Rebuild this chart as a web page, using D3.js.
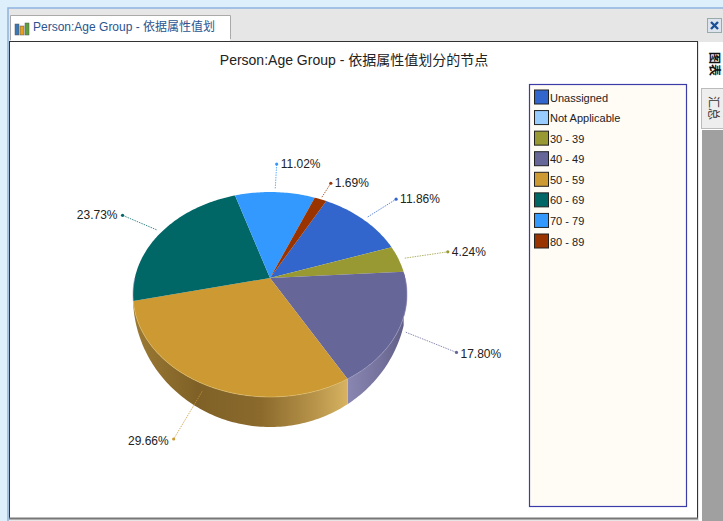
<!DOCTYPE html>
<html>
<head>
<meta charset="utf-8">
<script src="https://cdn.jsdelivr.net/npm/d3@7"></script>
<style>
body { margin: 0; background: #fff; overflow: hidden; }
text { font-family: "Liberation Sans", "Noto Sans CJK SC", sans-serif; }
</style>
</head>
<body>
<div id="chart"></div>
<script>
// chart values
const categories = ["Unassigned", "Not Applicable", "30 - 39", "40 - 49", "50 - 59", "60 - 69", "70 - 79", "80 - 89"];
const percents = [11.86, 0, 4.24, 17.80, 29.66, 23.73, 11.02, 1.69];
const colors = ["#3366cc", "#99ccff", "#999933", "#666699", "#cc9933", "#006666", "#3399ff", "#993300"];
const chartTitle = "Person:Age Group - 依据属性值划分的节点";
const tabTitle = "Person:Age Group - 依据属性值划";

const width = 723, height = 521;
const svg = d3.select("#chart").append("svg").attr("width", width).attr("height", height);
const defs = svg.append("defs");

// window chrome
svg.append("rect").attr("width", width).attr("height", height).attr("fill", "#dceffa");
svg.append("rect").attr("x", 8).attr("y", 8).attr("width", 716).attr("height", 514).attr("fill", "#e6e6e6").attr("stroke", "#8db4e0").attr("stroke-width", 1.5);
svg.append("rect").attr("x", 9.5).attr("y", 41.5).attr("width", 688).attr("height", 477).attr("fill", "#fff").attr("stroke", "#333");
svg.append("line").attr("x1", 9).attr("x2", 698).attr("y1", 518.5).attr("y2", 518.5).attr("stroke", "#777").attr("stroke-width", 2);

// tab
svg.append("path").attr("d", "M10.5,40V15.5H230.5V39").attr("fill", "#fff").attr("stroke", "#aaa");
svg.append("rect").attr("x", 11).attr("y", 16).attr("width", 219).attr("height", 25).attr("fill", "#fff");
const icon = svg.append("g");
[["#3b78b5", 15, 24, 4, 11], ["#e8a020", 20, 26, 4, 9], ["#5aa03c", 25, 23, 4, 12]].forEach(b => {
    icon.append("rect").attr("x", b[1]).attr("y", b[2]).attr("width", b[3]).attr("height", b[4]).attr("fill", b[0]).attr("stroke", "#555").attr("stroke-width", 0.5);
});
svg.append("text").attr("x", 33).attr("y", 31).attr("font-size", 12).attr("fill", "#2a5590").text(tabTitle);

// close button
svg.append("rect").attr("x", 707.5).attr("y", 18.5).attr("width", 14).attr("height", 14).attr("fill", "#dde4ee").attr("stroke", "#9aa");
svg.append("path").attr("d", "M711,22L718,29M718,22L711,29").attr("stroke", "#1c4f96").attr("stroke-width", 2.4);

// side tabs
svg.append("rect").attr("x", 699).attr("y", 42).attr("width", 24).attr("height", 479).attr("fill", "#fff");
svg.append("rect").attr("x", 701.5).attr("y", 88.5).attr("width", 22).attr("height", 40).attr("fill", "#eee").attr("stroke", "#bbb");
svg.append("rect").attr("x", 702).attr("y", 130).attr("width", 21).attr("height", 391).attr("fill", "#a0a0a0");
svg.append("text").attr("transform", "translate(710,52) rotate(90)").attr("font-size", 12).attr("font-weight", "bold").attr("fill", "#111").text("图表");
svg.append("text").attr("transform", "translate(709,96) rotate(90)").attr("font-size", 12).attr("fill", "#333").text("汇总");

// title
svg.append("text").attr("x", 354).attr("y", 65).attr("text-anchor", "middle").attr("font-size", 14).attr("fill", "#222").attr("xml:space", "preserve").text(chartTitle);

// perspective projection of the tilted pie, apex sits above the ellipse centre
const apexX = 270, apexY = 278, persp = -0.161, scaleU = 135.2, scaleV = 99.8;
function project(angle, r) {
    const u = r * Math.sin(angle), v = -r * Math.cos(angle), d = 1 + persp * v;
    return [apexX + scaleU * u / d, apexY + scaleV * v / d];
}
// lower rim of the wall, same x as the upper rim
const rimCy = 297, rimRx = 137, rimRy = 130;
function lowerY(x) {
    const k = Math.min(1, Math.abs(x - apexX) / rimRx);
    return rimCy + rimRy * Math.sqrt(1 - k * k);
}

const startDeg = 28.4;
const arcs = d3.pie().sort(null).value(d => d)
    .startAngle(startDeg * Math.PI / 180)
    .endAngle((startDeg + 360) * Math.PI / 180)(percents);

const line = d3.line();
function rimPoints(a0, a1, step) {
    const n = Math.max(2, Math.ceil((a1 - a0) / step));
    return d3.range(n + 1).map(i => project(a0 + (a1 - a0) * i / n, 1));
}

// wall gradients
function wallGradient(id, x1, x2, stops) {
    const g = defs.append("linearGradient").attr("id", id).attr("gradientUnits", "userSpaceOnUse")
        .attr("x1", x1).attr("x2", x2).attr("y1", 0).attr("y2", 0);
    stops.forEach(s => g.append("stop").attr("offset", s[0]).attr("stop-color", s[1]));
}
wallGradient("wall-4", 133, 347, [[0, "#9c7a34"], [0.3, "#7f6127"], [0.6, "#8b6a2c"], [0.85, "#b8944a"], [1, "#d6b261"]]);
wallGradient("wall-3", 345, 405, [[0, "#8b89b3"], [0.6, "#74729c"], [1, "#5f5d85"]]);

// walls, only the front slices show one
const step = Math.PI / 180;
const wallLayer = svg.append("g");
arcs.forEach((a, i) => {
    const lo = Math.max(a.startAngle, Math.PI / 2 - 0.06), hi = Math.min(a.endAngle, 3 * Math.PI / 2 + 0.05);
    if (hi <= lo) return;
    const top = rimPoints(lo, hi, step);
    const bottom = top.map(p => [p[0], Math.max(p[1], lowerY(p[0]))]).reverse();
    wallLayer.append("path").attr("d", line(top.concat(bottom)) + "Z").attr("fill", `url(#wall-${i})`);
});

// top surface
const topLayer = svg.append("g");
arcs.forEach((a, i) => {
    if (a.endAngle - a.startAngle <= 0) return;
    const pts = [[apexX, apexY]].concat(rimPoints(a.startAngle, a.endAngle, step));
    topLayer.append("path").attr("d", line(pts) + "Z").attr("fill", colors[i]);
});
// soft highlight along the front rim
arcs.forEach((a, i) => {
    const lo = Math.max(a.startAngle, Math.PI / 2), hi = Math.min(a.endAngle, 3 * Math.PI / 2);
    if (hi <= lo) return;
    topLayer.append("path").attr("d", line(rimPoints(lo, hi, step))).attr("fill", "none")
        .attr("stroke", i === 4 ? "#e0bf70" : "#9c9ac0").attr("stroke-width", 1).attr("opacity", 0.6);
});

// leaders and labels
const labelFmt = d3.format(".2f");
const labelLayer = svg.append("g");
arcs.forEach((a, i) => {
    if (percents[i] <= 0) return;
    const mid = (a.startAngle + a.endAngle) / 2;
    const reach = percents[i] < 3 ? 1.24 : 1.4;
    const p0 = project(mid, percents[i] < 3 ? 1.03 : 1.05), p1 = project(mid, reach);
    const c = colors[i];
    labelLayer.append("line").attr("x1", p0[0]).attr("y1", p0[1]).attr("x2", p1[0]).attr("y2", p1[1])
        .attr("stroke", c).attr("stroke-width", 1).attr("stroke-dasharray", "1.5 1").attr("opacity", 0.75);
    labelLayer.append("circle").attr("cx", p1[0]).attr("cy", p1[1]).attr("r", 1.6).attr("fill", c);
    const left = p1[0] < apexX;
    labelLayer.append("text")
        .attr("x", p1[0] + (left ? -5 : 4)).attr("y", p1[1] + (mid > Math.PI / 2 && mid < 3 * Math.PI / 2 ? 6 : 4))
        .attr("text-anchor", left ? "end" : "start")
        .attr("font-size", 12).attr("fill", "#222").text(labelFmt(percents[i]) + "%");
});

// legend
svg.append("rect").attr("x", 529.5).attr("y", 84.5).attr("width", 157).attr("height", 422)
    .attr("fill", "#fffbf5").attr("stroke", "#3c3ca8").attr("stroke-width", 1.2);
const rowY = d3.scalePoint().domain(categories).range([97, 241]);
const legend = svg.append("g").selectAll("g").data(categories).join("g")
    .attr("transform", d => `translate(534,${rowY(d)})`);
legend.append("rect").attr("x", 0.5).attr("y", -7).attr("width", 14).attr("height", 14)
    .attr("fill", (d, i) => colors[i]).attr("stroke", "#222").attr("stroke-width", 1);
legend.append("text").attr("x", 16).attr("y", 4.5).attr("font-size", 11).attr("fill", "#222").text(d => d);
</script>
</body>
</html>
